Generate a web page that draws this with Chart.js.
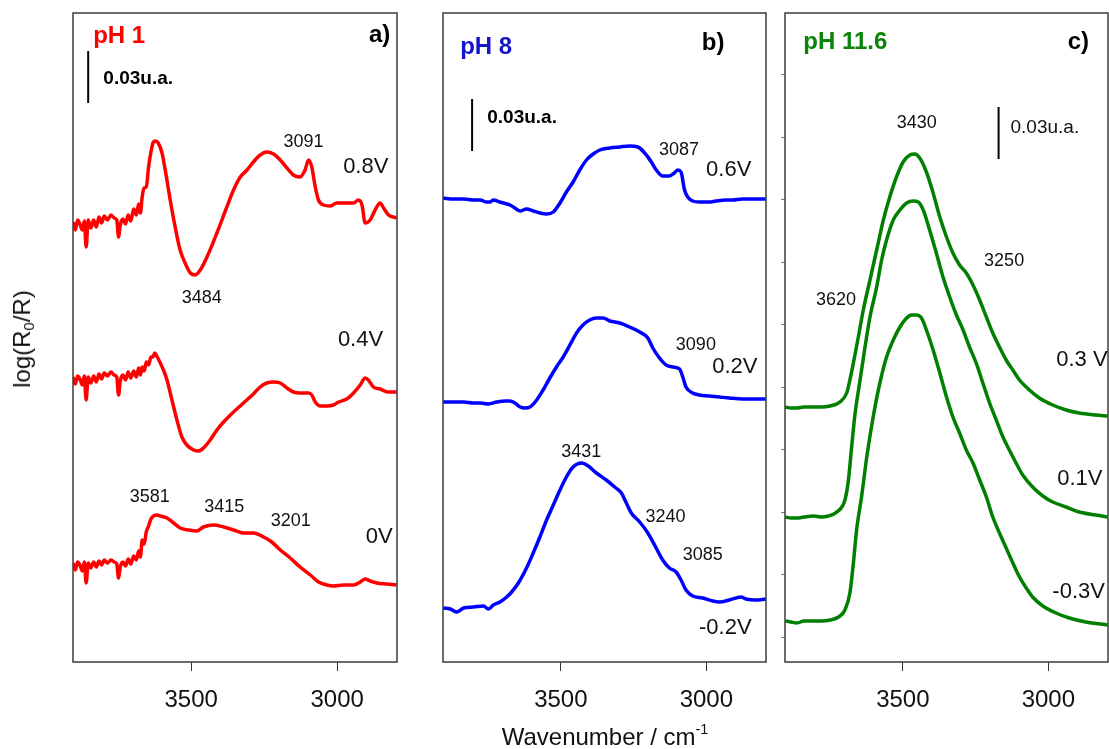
<!DOCTYPE html>
<html>
<head>
<meta charset="utf-8">
<script src="https://cdn.jsdelivr.net/npm/chart.js@4/dist/chart.umd.min.js"></script>
<style>
  body { margin: 0; background: #fff; }
  #fig { position: relative; width: 1109px; height: 749px; overflow: hidden; font-family: "Liberation Sans", Arial, sans-serif; color: #111; }
  canvas { position: absolute; top: 0; }
  .axtitle { position: absolute; font-size: 24px; white-space: nowrap; line-height: 1; }
  .axtitle sub { font-size: 0.62em; vertical-align: -0.3em; line-height: 0; }
  .axtitle sup { font-size: 0.6em; vertical-align: 0.75em; line-height: 0; }
</style>
</head>
<body>
<div id="fig">
  <canvas id="panelA" width="420" height="749" style="left:0px"></canvas>
  <canvas id="panelB" width="360" height="749" style="left:420px"></canvas>
  <canvas id="panelC" width="329" height="749" style="left:780px"></canvas>
  <div class="axtitle" id="ylab" style="left:22px; top:339px; transform: translate(-50%,-50%) rotate(-90deg);">log(R<sub>0</sub>/R)</div>
  <div class="axtitle" id="xlab" style="left:605px; top:737px; transform: translate(-50%,-50%);">Wavenumber / cm<sup>-1</sup></div>
</div>
<script>
// wavenumber (cm-1) vs offset log(R0/R) in arbitrary units (5.2 units = 0.03 u.a.)
const xTicks = [3500, 3000];
const yTicksC = [0, 6.25, 12.5, 18.75, 25, 31.25, 37.5, 43.75, 50, 56.25];

// pH 1
const a08 = [[3905,41.5],[3897,40.7],[3889,41.7],[3880,41.2],[3873,40.7],[3866,41.6],[3860,39.0],[3853,41.7],[3844,40.9],[3834,41.7],[3825,41.0],[3816,42.0],[3807,41.4],[3798,42.1],[3787,41.7],[3775,42.2],[3764,41.9],[3755,41.7],[3749,40.0],[3743,41.2],[3734,41.8],[3725,41.3],[3716,42.2],[3707,41.6],[3697,42.8],[3688,42.2],[3680,43.3],[3674,42.4],[3668,44.0],[3661,44.9],[3654,45.0],[3646,47.0],[3638,48.5],[3631,49.4],[3623,49.6],[3613,49.4],[3600,48.4],[3589,46.7],[3572,43.7],[3555,41.0],[3538,38.7],[3521,37.4],[3503,36.4],[3486,36.2],[3469,36.7],[3446,38.0],[3412,40.4],[3378,43.0],[3355,44.7],[3332,46.0],[3309,46.7],[3287,47.5],[3264,48.2],[3241,48.5],[3218,48.3],[3195,47.7],[3172,46.9],[3150,46.2],[3127,46.0],[3110,46.7],[3098,47.7],[3087,47.0],[3075,45.0],[3064,43.7],[3047,43.2],[3024,43.1],[3001,43.4],[2967,43.4],[2944,43.4],[2927,43.7],[2915,43.2],[2904,41.4],[2887,41.7],[2870,42.7],[2853,43.4],[2841,42.9],[2824,42.2],[2796,41.9]];
const a04 = [[3905,26.0],[3897,25.3],[3889,26.1],[3880,25.7],[3873,25.2],[3866,26.1],[3860,23.7],[3853,26.0],[3844,25.4],[3834,26.1],[3825,25.5],[3816,26.3],[3807,25.8],[3798,26.4],[3787,26.1],[3775,26.5],[3764,26.2],[3755,26.0],[3749,24.2],[3743,25.6],[3734,26.2],[3725,25.7],[3716,26.5],[3707,25.9],[3697,26.6],[3688,26.0],[3680,26.9],[3674,26.2],[3668,27.0],[3661,26.6],[3654,27.5],[3646,27.2],[3638,28.0],[3631,28.0],[3625,28.4],[3618,28.1],[3606,27.4],[3595,26.7],[3583,25.7],[3566,23.7],[3549,21.7],[3532,20.0],[3515,19.2],[3492,18.7],[3475,18.6],[3458,18.9],[3435,19.7],[3412,20.7],[3389,21.5],[3355,22.5],[3321,23.4],[3287,24.3],[3264,25.0],[3241,25.4],[3218,25.5],[3195,25.4],[3172,24.9],[3150,24.5],[3127,24.4],[3098,24.4],[3087,24.2],[3075,23.5],[3058,23.1],[3035,23.1],[3013,23.2],[2995,23.5],[2967,23.8],[2944,24.4],[2921,25.2],[2904,25.9],[2893,25.7],[2876,25.0],[2853,24.8],[2824,24.5],[2796,24.5]];
const a00 = [[3905,7.4],[3897,6.7],[3889,7.5],[3880,7.1],[3873,6.6],[3866,7.5],[3860,5.4],[3853,7.4],[3844,6.9],[3834,7.5],[3825,7.0],[3816,7.6],[3807,7.2],[3798,7.7],[3787,7.4],[3775,7.7],[3764,7.5],[3755,7.3],[3749,5.9],[3743,7.0],[3734,7.5],[3725,7.1],[3716,7.8],[3707,7.3],[3697,8.1],[3688,7.7],[3680,8.6],[3674,8.0],[3668,9.7],[3661,9.3],[3654,10.5],[3646,11.1],[3638,11.8],[3629,12.1],[3618,12.2],[3606,12.1],[3583,11.9],[3560,11.4],[3538,10.9],[3509,10.7],[3481,10.6],[3458,11.0],[3423,11.2],[3389,11.0],[3355,10.7],[3321,10.4],[3287,10.4],[3252,10.0],[3224,9.5],[3195,8.7],[3161,7.9],[3127,7.0],[3092,6.2],[3064,5.5],[3035,5.2],[3013,5.1],[2978,5.2],[2944,5.2],[2921,5.5],[2904,5.8],[2887,5.6],[2864,5.4],[2830,5.3],[2796,5.2]];

// pH 8
const b06 = [[3905,43.9],[3870,43.8],[3834,43.8],[3800,43.7],[3777,43.7],[3755,43.5],[3743,43.5],[3732,43.7],[3710,43.5],[3697,43.4],[3675,43.2],[3663,43.0],[3640,42.6],[3618,42.8],[3595,42.6],[3572,42.4],[3549,42.3],[3526,42.5],[3503,43.4],[3481,44.5],[3458,45.5],[3435,46.7],[3412,47.7],[3389,48.3],[3366,48.7],[3332,48.9],[3298,49.0],[3264,49.1],[3235,49.0],[3212,48.4],[3189,47.5],[3172,46.7],[3150,46.1],[3127,46.1],[3110,46.4],[3098,46.7],[3087,46.5],[3075,44.7],[3064,44.0],[3047,43.6],[3024,43.5],[2990,43.5],[2967,43.6],[2933,43.7],[2910,43.7],[2876,43.8],[2841,43.8],[2796,43.8]];
const b02 = [[3905,23.5],[3870,23.5],[3834,23.5],[3800,23.4],[3777,23.4],[3749,23.3],[3720,23.5],[3690,23.6],[3675,23.6],[3658,23.4],[3640,23.0],[3623,22.9],[3606,23.0],[3583,23.7],[3561,24.7],[3538,25.9],[3515,27.0],[3492,28.0],[3469,29.2],[3446,30.4],[3424,31.2],[3401,31.7],[3378,31.9],[3355,31.9],[3332,31.6],[3298,31.4],[3264,31.0],[3229,30.5],[3201,29.9],[3184,28.9],[3161,27.9],[3138,27.2],[3115,27.0],[3092,26.8],[3081,26.0],[3070,25.0],[3047,24.4],[3024,24.2],[2990,24.1],[2955,24.0],[2921,23.9],[2876,23.8],[2841,23.8],[2796,23.8]];
const bm02 = [[3905,2.9],[3880,2.8],[3857,2.5],[3834,2.9],[3800,3.0],[3766,3.1],[3749,2.8],[3732,3.2],[3709,3.5],[3686,4.0],[3669,4.5],[3646,5.4],[3618,6.9],[3595,8.4],[3572,10.0],[3549,11.7],[3526,13.2],[3503,14.7],[3481,16.0],[3458,17.0],[3429,17.4],[3406,17.1],[3378,16.4],[3344,15.7],[3315,15.0],[3292,14.4],[3275,13.4],[3258,12.4],[3229,11.5],[3201,10.4],[3178,9.2],[3150,7.7],[3127,6.9],[3104,6.5],[3087,5.7],[3070,4.7],[3047,4.1],[3013,3.9],[2978,3.6],[2955,3.5],[2921,3.7],[2881,4.0],[2864,3.8],[2830,3.7],[2796,3.8]];

// pH 11.6
const c03 = [[3904,23.0],[3885,22.9],[3864,22.9],[3840,23.0],[3807,23.0],[3780,23.0],[3750,23.1],[3716,23.5],[3693,24.4],[3682,25.7],[3670,27.4],[3653,30.0],[3636,32.7],[3613,35.7],[3590,38.7],[3567,41.7],[3545,44.0],[3522,46.0],[3499,47.5],[3476,48.2],[3459,48.3],[3442,47.9],[3419,46.5],[3396,44.4],[3373,42.0],[3350,40.0],[3328,38.4],[3305,37.2],[3282,36.4],[3259,35.2],[3236,33.7],[3213,32.0],[3191,30.4],[3168,29.0],[3145,27.7],[3122,26.7],[3099,25.7],[3065,24.7],[3031,23.9],[2985,23.2],[2939,22.7],[2894,22.4],[2837,22.2],[2797,22.1]];
const c01 = [[3904,12.0],[3885,11.9],[3864,11.9],[3840,12.0],[3807,12.1],[3780,12.0],[3756,12.1],[3727,12.5],[3699,13.7],[3687,15.7],[3676,19.0],[3664,22.4],[3647,25.7],[3630,29.0],[3613,32.0],[3590,35.0],[3573,37.7],[3556,39.7],[3533,41.7],[3510,42.7],[3487,43.4],[3465,43.6],[3447,43.5],[3430,42.7],[3408,40.7],[3385,38.4],[3362,36.0],[3339,34.0],[3316,32.2],[3293,30.7],[3271,29.0],[3248,27.4],[3225,25.4],[3202,23.4],[3179,21.7],[3156,20.0],[3134,18.7],[3111,17.4],[3088,16.2],[3054,15.0],[3019,14.1],[2985,13.5],[2939,13.0],[2894,12.5],[2837,12.2],[2797,12.0]];
const cm03 = [[3904,1.6],[3885,1.5],[3864,1.4],[3840,1.6],[3807,1.6],[3780,1.6],[3750,1.7],[3721,2.0],[3699,2.7],[3682,4.4],[3670,7.4],[3659,10.7],[3642,14.0],[3624,18.0],[3602,22.0],[3579,25.4],[3556,28.0],[3533,29.7],[3510,31.0],[3487,31.9],[3470,32.2],[3453,32.2],[3436,31.9],[3419,30.7],[3396,28.7],[3373,26.4],[3350,24.0],[3328,22.0],[3305,20.4],[3282,18.7],[3259,17.4],[3236,15.7],[3213,14.0],[3191,12.0],[3168,10.4],[3145,8.9],[3122,7.4],[3099,6.0],[3076,4.9],[3054,4.0],[3019,3.1],[2974,2.4],[2928,1.9],[2871,1.5],[2797,1.2]];

const RED = "#ff0000", BLUE = "#0000ff", GREEN = "#007f00";
const BOLD = "bold 24px 'Liberation Sans', Arial, sans-serif";
const BAR = "bold 19px 'Liberation Sans', Arial, sans-serif";
const NUM = "18px 'Liberation Sans', Arial, sans-serif";
const VOLT = "22px 'Liberation Sans', Arial, sans-serif";

function toPoints(arr) {
    return arr.map(p => ({x: p[0], y: p[1]}));
}

function line(arr, color) {
    return {
        data: toPoints(arr),
        borderColor: color,
        borderWidth: 3.5,
        pointRadius: 0,
        fill: false,
        cubicInterpolationMode: "monotone"
    };
}

// frame, scale bar and the text labels placed in data coordinates
const decorPlugin = {
    id: "decor",
    afterDraw(chart, args, opts) {
        const {ctx, chartArea: a} = chart;
        const x = chart.scales.x, y = chart.scales.y;
        ctx.save();
        ctx.strokeStyle = "#3c3c3c";
        ctx.lineWidth = 1.5;
        ctx.strokeRect(a.left, a.top, a.right - a.left, a.bottom - a.top);
        if (opts.bar) {
            ctx.strokeStyle = "#000";
            ctx.lineWidth = 2;
            ctx.beginPath();
            ctx.moveTo(x.getPixelForValue(opts.bar.x), y.getPixelForValue(opts.bar.y0));
            ctx.lineTo(x.getPixelForValue(opts.bar.x), y.getPixelForValue(opts.bar.y1));
            ctx.stroke();
        }
        ctx.textBaseline = "middle";
        for (const t of opts.labels || []) {
            ctx.font = t.font;
            ctx.fillStyle = t.color || "#111";
            ctx.textAlign = t.align || "center";
            ctx.fillText(t.text, x.getPixelForValue(t.x), y.getPixelForValue(t.y));
        }
        ctx.restore();
    }
};

function makePanel(id, datasets, padding, decor, showYTicks) {
    return new Chart(document.getElementById(id), {
        type: "line",
        data: {datasets},
        plugins: [decorPlugin],
        options: {
            responsive: false,
            animation: false,
            layout: {padding},
            plugins: {
                legend: {display: false},
                tooltip: {enabled: false},
                decor
            },
            scales: {
                x: {
                    type: "linear",
                    reverse: true,
                    min: 2795,
                    max: 3905,
                    afterBuildTicks: s => { s.ticks = xTicks.map(v => ({value: v})); },
                    afterFit: s => { s.height = 87; },
                    border: {display: false},
                    grid: {drawOnChartArea: false, drawTicks: true, tickLength: 9, color: "#333", lineWidth: 1},
                    ticks: {
                        callback: v => String(v),
                        color: "#111",
                        padding: 15,
                        maxRotation: 0,
                        font: {family: "'Liberation Sans', Arial, sans-serif", size: 24}
                    }
                },
                y: {
                    type: "linear",
                    min: -2.5,
                    max: 62.4,
                    display: showYTicks,
                    afterBuildTicks: s => { s.ticks = yTicksC.map(v => ({value: v})); },
                    afterFit: s => { s.width = 5; },
                    border: {display: false},
                    grid: {drawOnChartArea: false, drawTicks: true, tickLength: 4, color: "#777"},
                    ticks: {display: false}
                }
            }
        }
    });
}

makePanel("panelA", [line(a08, RED), line(a04, RED), line(a00, RED)],
    {left: 68, right: 23, top: 13, bottom: 0},
    {
        bar: {x: 3853, y0: 58.6, y1: 53.4},
        labels: [
            {text: "pH 1", x: 3836, y: 60.1, font: BOLD, color: RED, align: "left"},
            {text: "a)", x: 2818, y: 60.2, font: BOLD, color: "#000", align: "right"},
            {text: "0.03u.a.", x: 3801, y: 55.8, font: BAR, color: "#000", align: "left"},
            {text: "3091", x: 3115, y: 49.5, font: NUM},
            {text: "0.8V", x: 2902, y: 47.0, font: VOLT},
            {text: "3484", x: 3464, y: 33.9, font: NUM},
            {text: "0.4V", x: 2920, y: 29.7, font: VOLT},
            {text: "3581", x: 3642, y: 14.0, font: NUM},
            {text: "3415", x: 3387, y: 13.0, font: NUM},
            {text: "3201", x: 3159, y: 11.6, font: NUM},
            {text: "0V", x: 2856, y: 10.0, font: VOLT}
        ]
    }, false);

makePanel("panelB", [line(b06, BLUE), line(b02, BLUE), line(bm02, BLUE)],
    {left: 18, right: 14, top: 13, bottom: 0},
    {
        bar: {x: 3805, y0: 53.8, y1: 48.6},
        labels: [
            {text: "pH 8", x: 3846, y: 59.0, font: BOLD, color: "#1414c8", align: "left"},
            {text: "b)", x: 2938, y: 59.4, font: BOLD, color: "#000", align: "right"},
            {text: "0.03u.a.", x: 3753, y: 51.9, font: BAR, color: "#000", align: "left"},
            {text: "3087", x: 3094, y: 48.7, font: NUM},
            {text: "0.6V", x: 2923, y: 46.7, font: VOLT},
            {text: "3090", x: 3036, y: 29.2, font: NUM},
            {text: "0.2V", x: 2902, y: 27.0, font: VOLT},
            {text: "3431", x: 3430, y: 18.5, font: NUM},
            {text: "3240", x: 3140, y: 12.0, font: NUM},
            {text: "3085", x: 3012, y: 8.2, font: NUM},
            {text: "-0.2V", x: 2935, y: 0.9, font: VOLT}
        ]
    }, false);

makePanel("panelC", [line(c03, GREEN), line(c01, GREEN), line(cm03, GREEN)],
    {left: 0, right: 1, top: 13, bottom: 0},
    {
        bar: {x: 3171, y0: 53.0, y1: 47.8},
        labels: [
            {text: "pH 11.6", x: 3842, y: 59.5, font: BOLD, color: "#0a850a", align: "left"},
            {text: "c)", x: 2860, y: 59.5, font: BOLD, color: "#000", align: "right"},
            {text: "0.03u.a.", x: 3130, y: 50.9, font: "19px 'Liberation Sans', Arial, sans-serif", color: "#111", align: "left"},
            {text: "3430", x: 3452, y: 51.4, font: NUM},
            {text: "3250", x: 3152, y: 37.6, font: NUM},
            {text: "3620", x: 3730, y: 33.7, font: NUM},
            {text: "0.3 V", x: 2973, y: 27.7, font: VOLT, align: "left"},
            {text: "0.1V", x: 2892, y: 15.8, font: VOLT},
            {text: "-0.3V", x: 2896, y: 4.5, font: VOLT}
        ]
    }, true);
</script>
</body>
</html>
